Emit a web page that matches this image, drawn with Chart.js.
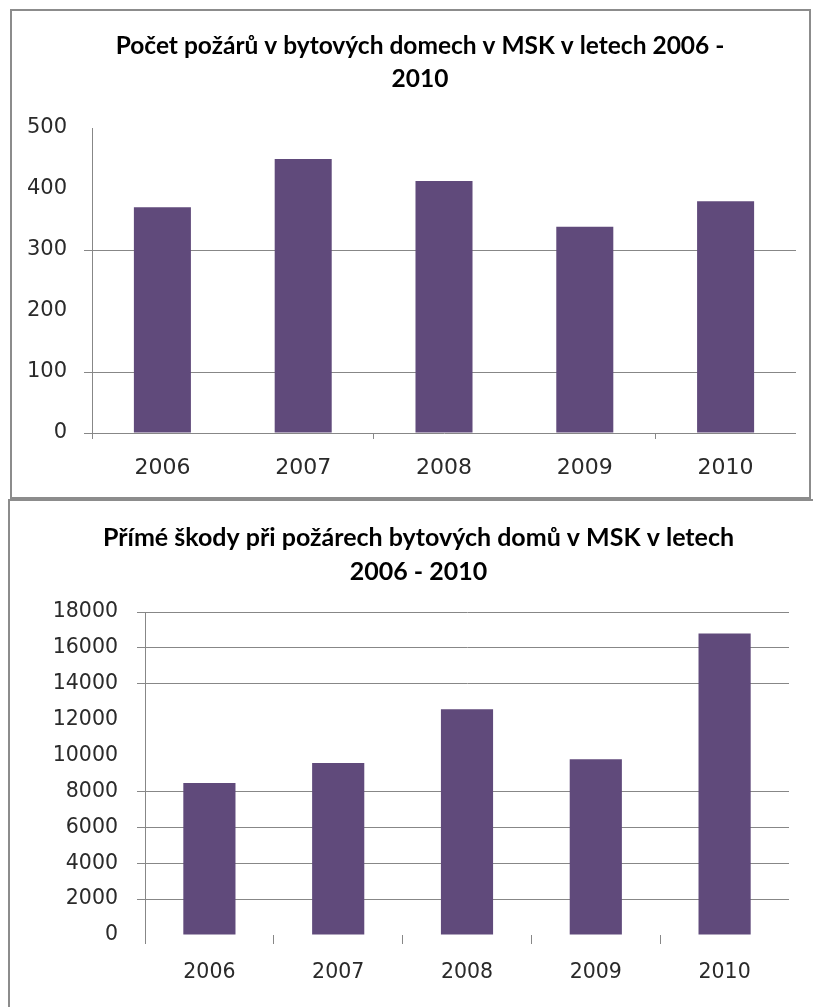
<!DOCTYPE html>
<html>
<head>
<meta charset="utf-8">
<script src="https://cdn.jsdelivr.net/npm/chart.js@4.4.0/dist/chart.umd.min.js"></script>
<style>
  html, body { margin: 0; padding: 0; background: #fff; overflow: hidden; }
  body { width: 813px; height: 1007px; position: relative; }
  .frame { position: absolute; border: 2px solid #8c8c8c; box-sizing: border-box; }
  canvas { position: absolute; left: 0; }
</style>
</head>
<body>
<div class="frame" style="left:10px;top:9px;width:801px;height:490px;"></div>
<div class="frame" style="left:8px;top:499px;width:830px;height:530px;"></div>
<canvas id="fires" width="813" height="497" style="top:0"></canvas>
<canvas id="damage" width="813" height="508" style="top:499px"></canvas>
<script>
// --- data ---
const years = ['2006', '2007', '2008', '2009', '2010'];
const firesCount = [370, 449, 413, 338, 380];
const directDamage = [8470, 9580, 12580, 9800, 16800];

const firesTitle = ['Počet požárů v bytových domech v MSK v letech 2006 -', '2010'];
const damageTitle = ['Přímé škody při požárech bytových domů v MSK v letech', '2006 - 2010'];

const firesAxis = [0, 500, 100];      // min, max, step
const damageAxis = [0, 18000, 2000];

// gridlines / ticks that are not visible in the original
const firesHiddenGrid = [500, 400, 200];
const damageHiddenGrid = [12000, 10000, 0];
const firesXTicks = [0, 2, 4];
const damageXTicks = [0, 1, 2, 3, 4];

const barColor = '#604A7B';
const gridColor = '#878787';
const textColor = '#2a2a2a';
const clear = 'rgba(0,0,0,0)';

// the title in the original sits a bit right of the canvas centre
const titleShift = {
    id: 'titleShift',
    afterLayout(chart, args, opts) {
        const t = chart.titleBlock;
        if (t) {
            t.left += opts.dx;
            t.right += opts.dx;
        }
    }
};

function barChart(id, p) {
    return new Chart(document.getElementById(id), {
        type: 'bar',
        plugins: [titleShift],
        data: {
            labels: years,
            datasets: [{
                data: p.values,
                backgroundColor: barColor,
                borderWidth: 0,
                barPercentage: 0.405,
                categoryPercentage: 1
            }]
        },
        options: {
            responsive: false,
            animation: false,
            devicePixelRatio: 1,
            layout: {padding: p.pad},
            plugins: {
                legend: {display: false},
                tooltip: {enabled: false},
                titleShift: {dx: p.titleDx},
                title: {
                    display: true,
                    text: p.title,
                    color: '#000',
                    font: {family: 'Lato', weight: 'bold', size: p.titleSize, lineHeight: p.titleLine + 'px'},
                    padding: p.titlePad
                }
            },
            scales: {
                x: {
                    grid: {
                        offset: true,
                        drawOnChartArea: false,
                        tickLength: p.xTickLen,
                        color: (ctx) => p.xTicks.includes(ctx.index) ? gridColor : clear
                    },
                    border: {display: false},
                    ticks: {
                        color: textColor,
                        font: {family: 'DejaVu Sans', size: p.xFont},
                        padding: p.xPad,
                        maxRotation: 0
                    },
                    afterFit: (s) => { s.height = 60; }
                },
                y: {
                    min: p.axis[0],
                    max: p.axis[1],
                    ticks: {
                        stepSize: p.axis[2],
                        color: textColor,
                        font: {family: 'DejaVu Sans', size: p.yFont},
                        padding: p.yPad,
                        callback: (v) => String(v)
                    },
                    grid: {
                        tickLength: 8,
                        color: (ctx) => (ctx.tick && p.hidden.includes(ctx.tick.value)) ? clear : gridColor
                    },
                    border: {display: true, color: gridColor},
                    afterFit: (s) => { s.width = p.yWidth; }
                }
            }
        }
    });
}

barChart('fires', {
    values: firesCount,
    title: firesTitle,
    axis: firesAxis,
    hidden: firesHiddenGrid,
    xTicks: firesXTicks,
    pad: {left: 8, right: 17, top: 0, bottom: 4},
    titleSize: 24.5, titleLine: 33, titlePad: {top: 30, bottom: 32}, titleDx: 18,
    xTickLen: 6, xPad: 16, xFont: 22,
    yFont: 21, yPad: 17, yWidth: 84
});

barChart('damage', {
    values: directDamage,
    title: damageTitle,
    axis: damageAxis,
    hidden: damageHiddenGrid,
    xTicks: damageXTicks,
    pad: {left: 8, right: 24, top: 0, bottom: 12},
    titleSize: 25, titleLine: 34, titlePad: {top: 22, bottom: 23}, titleDx: 20,
    xTickLen: 9, xPad: 16, xFont: 20.5,
    yFont: 20.5, yPad: 19, yWidth: 137
});
</script>
</body>
</html>
